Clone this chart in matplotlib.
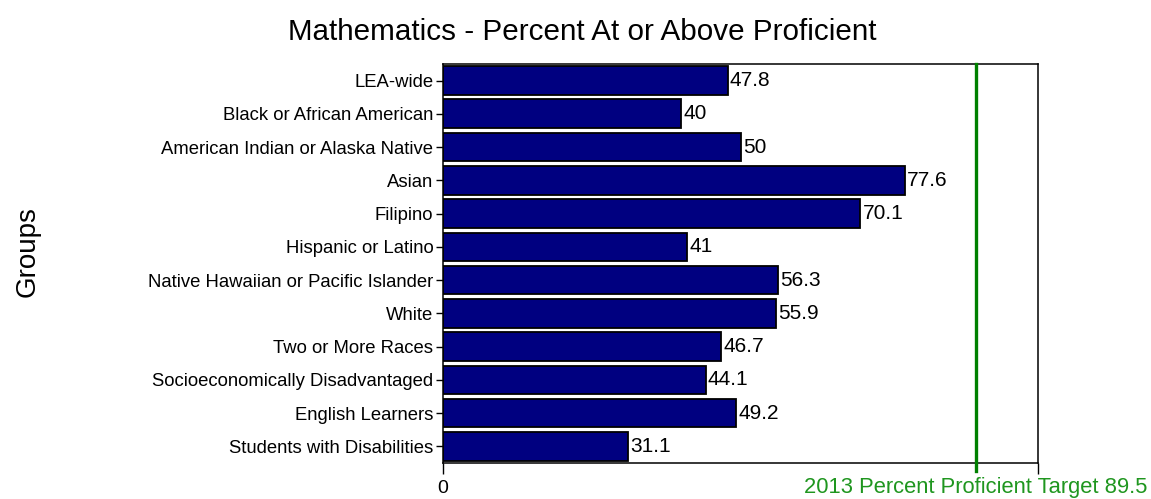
import matplotlib
matplotlib.use("Agg")
import matplotlib.pyplot as plt
import matplotlib.transforms as mtransforms

plt.rcParams['font.family'] = ['Liberation Sans', 'DejaVu Sans']

# percent at or above proficient, by student group
groups = ["LEA-wide", "Black or African American", "American Indian or Alaska Native",
          "Asian", "Filipino", "Hispanic or Latino", "Native Hawaiian or Pacific Islander",
          "White", "Two or More Races", "Socioeconomically Disadvantaged",
          "English Learners", "Students with Disabilities"]
pct = [47.8, 40, 50, 77.6, 70.1, 41, 56.3, 55.9, 46.7, 44.1, 49.2, 31.1]
target = 89.5
target_label = "2013 Percent Proficient Target 89.5"

fig = plt.figure(figsize=(11.51, 4.99), dpi=100)
ax = fig.add_axes([0.385, 0.072, 0.517, 0.800])

ypos = list(range(len(groups)))
ax.barh(ypos, pct, height=0.86, color='#000080', edgecolor='black', linewidth=1.3)
for y, v in zip(ypos, pct):
    ax.text(v + 0.4, y, f"{v:g}", va='center', ha='left', fontsize=15)

ax.set_xlim(0, 100)
ax.set_ylim(len(groups) - 0.5, -0.5)
ax.set_yticks(ypos)
ax.set_yticklabels(groups, fontsize=13.3)
ax.set_xticks([0, 100])
ax.set_xticklabels(['0', ''], fontsize=14)
ax.tick_params(axis='y', length=5, width=1, pad=2)
ax.tick_params(axis='x', length=8, width=1, pad=4)

# target line runs a little past the bottom edge
ax.axvline(target, ymin=-0.02, ymax=1, color='#008000', linewidth=2.4, clip_on=False, zorder=3)
trans = mtransforms.blended_transform_factory(ax.transData, ax.transAxes)
ax.text(target, -0.035, target_label, transform=trans, ha='center', va='top',
        color='#1f961f', fontsize=15.8)

for s in ax.spines.values():
    s.set_linewidth(1.1)

ax.set_ylabel("Groups", fontsize=20)
ax.yaxis.set_label_coords(-0.677, 0.529)
fig.text(0.506, 0.935, "Mathematics - Percent At or Above Proficient", ha='center', va='center',
         fontsize=21.3)

fig.savefig("out.png", dpi=100)
